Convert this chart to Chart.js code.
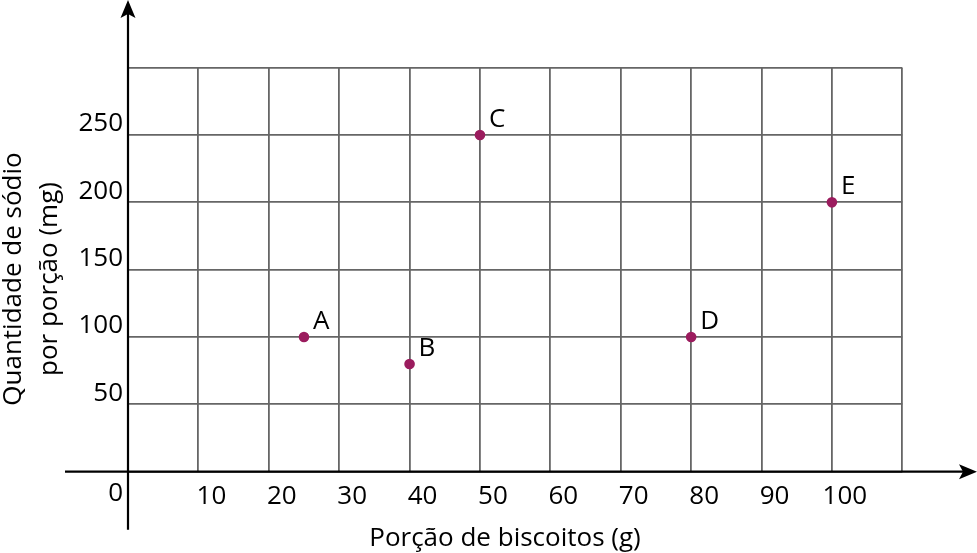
<!DOCTYPE html>
<html><head><meta charset="utf-8">
<script src="https://cdn.jsdelivr.net/npm/chart.js@4.4.1/dist/chart.umd.min.js"></script>
<style>html,body{margin:0;padding:0;background:#fff}#wrap{width:977px;height:553px;position:relative}</style>
</head><body><div id="wrap"><canvas id="c"></canvas></div>
<script>
// ---- data ----
const pointNames = ['A', 'B', 'C', 'D', 'E'];
const portionGrams = [25, 40, 50, 80, 100];
const sodiumMg = [100, 80, 250, 100, 200];
const xTickLabels = ['10', '20', '30', '40', '50', '60', '70', '80', '90', '100'];
const yTickLabels = ['50', '100', '150', '200', '250'];
const originLabel = '0';
const xTitle = 'Porção de biscoitos (g)';
const yTitle = ['Quantidade de sódio', 'por porção (mg)'];
const xMax = 110, yMax = 300, xStep = 10, yStep = 50;

const FONT = '"Open Sans", "DejaVu Sans", sans-serif';
const FS = 26;

const decor = {
  id: 'decor',
  afterDatasetsDraw(chart) {
    const {ctx, scales: {x, y}} = chart;
    const ox = x.getPixelForValue(0), oy = y.getPixelForValue(0);
    ctx.save();
    ctx.strokeStyle = '#000'; ctx.fillStyle = '#000'; ctx.lineWidth = 2.2;
    // x axis line + arrow
    ctx.beginPath(); ctx.moveTo(ox - 63, oy); ctx.lineTo(966, oy); ctx.stroke();
    ctx.beginPath();
    ctx.moveTo(977, oy); ctx.lineTo(959, oy - 7.5); ctx.lineTo(963, oy); ctx.lineTo(959, oy + 7.5);
    ctx.closePath(); ctx.fill();
    // y axis line + arrow
    ctx.beginPath(); ctx.moveTo(ox, oy + 58); ctx.lineTo(ox, 12); ctx.stroke();
    ctx.beginPath();
    ctx.moveTo(ox, 0); ctx.lineTo(ox - 7.5, 18); ctx.lineTo(ox, 14); ctx.lineTo(ox + 7.5, 18);
    ctx.closePath(); ctx.fill();
    // origin label
    ctx.font = FS + 'px ' + FONT;
    ctx.textAlign = 'right'; ctx.textBaseline = 'alphabetic';
    ctx.fillText(originLabel, ox - 5, oy + 29);
    // point labels
    ctx.textAlign = 'left';
    const meta = chart.getDatasetMeta(0);
    meta.data.forEach((pt, i) => {
      ctx.fillText(pointNames[i], pt.x + 9, pt.y - 8);
    });
    // x title
    ctx.textAlign = 'center';
    ctx.fillText(xTitle, 505, 546);
    // y title
    ctx.save();
    ctx.translate(0, 279);
    ctx.rotate(-Math.PI / 2);
    ctx.fillText(yTitle[0], 0, 21);
    ctx.fillText(yTitle[1], 0, 57);
    ctx.restore();
    ctx.restore();
  }
};

function build() {
  new Chart(document.getElementById('c'), {
    type: 'scatter',
    data: {
      datasets: [{
        data: portionGrams.map((g, i) => ({x: g, y: sodiumMg[i]})),
        pointRadius: 5.3,
        pointHoverRadius: 5.3,
        pointBackgroundColor: '#9b1c5e',
        pointBorderWidth: 0,
        showLine: false
      }]
    },
    options: {
      responsive: true,
      maintainAspectRatio: false,
      animation: false,
      events: [],
      layout: {padding: {top: 67.7, right: 74.7, left: 0, bottom: 0}},
      plugins: {legend: {display: false}, tooltip: {enabled: false}},
      scales: {
        x: {
          type: 'linear', min: 0, max: xMax,
          afterFit: s => { s.height = 553 - 471.7; },
          border: {display: false},
          grid: {color: '#666666', lineWidth: 1.8, drawTicks: false},
          ticks: {
            stepSize: xStep, autoSkip: false, maxRotation: 0,
            padding: 9, labelOffset: 13, color: '#000',
            font: {family: FONT, size: FS},
            callback: v => xTickLabels.includes(String(v)) ? String(v) : ''
          }
        },
        y: {
          type: 'linear', min: 0, max: yMax,
          afterFit: s => { s.width = 128; },
          border: {display: false},
          grid: {color: '#666666', lineWidth: 1.8, drawTicks: false},
          ticks: {
            stepSize: yStep, autoSkip: false,
            padding: 5, labelOffset: -11, color: '#000',
            font: {family: FONT, size: FS},
            callback: v => yTickLabels.includes(String(v)) ? String(v) : ''
          }
        }
      }
    },
    plugins: [decor]
  });
}
if (document.fonts && document.fonts.load) {
  document.fonts.load(FS + 'px "Open Sans"').then(build, build);
} else { build(); }
</script>
</body></html>
